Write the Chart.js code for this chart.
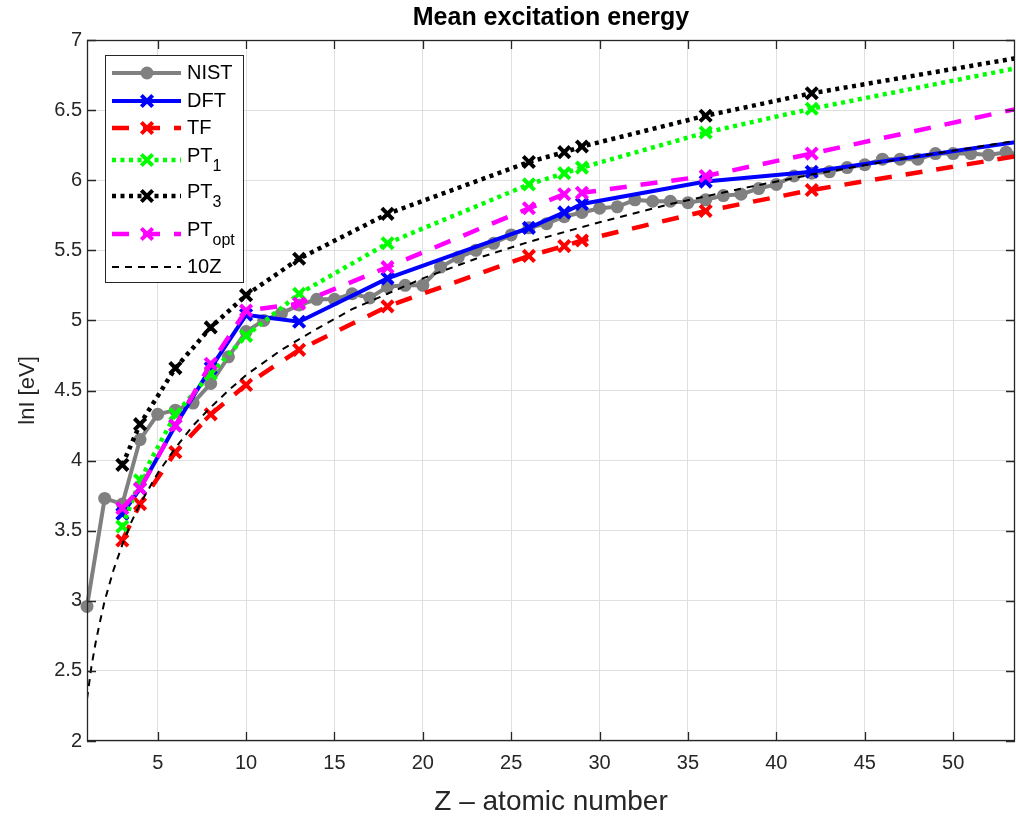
<!DOCTYPE html>
<html>
<head>
<meta charset="utf-8">
<title>Mean excitation energy</title>
<script src="https://cdn.jsdelivr.net/npm/chart.js@4.4.0/dist/chart.umd.min.js"></script>
<style>
  html, body { margin: 0; padding: 0; background: #fff; }
  #wrap { width: 1016px; height: 819px; }
</style>
</head>
<body>
<div id="wrap"><canvas id="chart" width="1016" height="819"></canvas></div>
<script>
// Z values for the NIST reference data
const zNist = [1, 2, 3, 4, 5, 6, 7, 8, 9, 10, 11, 12, 13, 14, 15, 16, 17, 18, 19, 20,
    21, 22, 23, 24, 25, 26, 27, 28, 29, 30, 31, 32, 33, 34, 35, 36, 37, 38, 39, 40,
    41, 42, 43, 44, 45, 46, 47, 48, 49, 50, 51, 52, 53, 54];
const nist = [2.96, 3.73, 3.69, 4.15, 4.33, 4.36, 4.41, 4.55, 4.74, 4.92, 5.00, 5.05, 5.11, 5.15, 5.15, 5.19, 5.16, 5.24, 5.25, 5.25,
    5.38, 5.45, 5.50, 5.55, 5.61, 5.66, 5.69, 5.74, 5.77, 5.80, 5.81, 5.86, 5.85, 5.85, 5.84, 5.86, 5.89, 5.90, 5.94, 5.97,
    6.03, 6.05, 6.06, 6.09, 6.11, 6.15, 6.15, 6.15, 6.19, 6.19, 6.19, 6.18, 6.20, 6.18];

// Z values of the computed atoms
const zCalc = [3, 4, 6, 8, 10, 13, 18, 26, 28, 29, 36, 42, 54];
const dft   = [3.62, 3.80, 4.25, 4.66, 5.04, 4.99, 5.30, 5.66, 5.77, 5.83, 5.99, 6.06, 6.28];
const tf    = [3.43, 3.69, 4.06, 4.33, 4.54, 4.79, 5.10, 5.46, 5.53, 5.57, 5.78, 5.93, 6.18];
const pt1   = [3.53, 3.86, 4.33, 4.62, 4.89, 5.19, 5.55, 5.97, 6.05, 6.09, 6.34, 6.51, 6.81];
const pt3   = [3.97, 4.26, 4.66, 4.95, 5.18, 5.44, 5.76, 6.13, 6.20, 6.24, 6.46, 6.62, 6.88];
const ptOpt = [3.66, 3.80, 4.25, 4.69, 5.07, 5.12, 5.38, 5.80, 5.90, 5.91, 6.03, 6.19, 6.52];

// 10Z reference curve
const z10Z = [1, 1.25, 1.5, 1.75, 2, 2.5, 3, 3.5, 4, 5, 6, 7, 8, 9, 10, 12, 14, 16, 18, 20,
    23, 26, 30, 34, 38, 42, 46, 50, 54];
const tenZ = [2.30, 2.53, 2.71, 2.86, 3.00, 3.22, 3.40, 3.56, 3.69, 3.91, 4.09, 4.25, 4.38, 4.50, 4.61, 4.79, 4.94, 5.08, 5.19, 5.30,
    5.44, 5.56, 5.70, 5.83, 5.94, 6.04, 6.13, 6.21, 6.29];

const xTicks = [5, 10, 15, 20, 25, 30, 35, 40, 45, 50];
const yTicks = [2, 2.5, 3, 3.5, 4, 4.5, 5, 5.5, 6, 6.5, 7];

function toXY(xs, ys) {
    return xs.map((x, i) => ({ x: x, y: ys[i] }));
}

const axisColor = '#262626';
const fontFamily = '"Liberation Sans", Arial, Helvetica, sans-serif';

// legend rows: label, subscript, row centre y
const legendRows = [
    { text: 'NIST', sub: '', y: 73 },
    { text: 'DFT', sub: '', y: 101 },
    { text: 'TF', sub: '', y: 128 },
    { text: 'PT', sub: '1', y: 160 },
    { text: 'PT', sub: '3', y: 196 },
    { text: 'PT', sub: 'opt', y: 234 },
    { text: '10Z', sub: '', y: 267 }
];

function drawMarker(ctx, ds, x, y) {
    ctx.save();
    ctx.setLineDash([]);
    if (ds.pointStyle === 'circle') {
        ctx.fillStyle = ds.borderColor;
        ctx.beginPath();
        ctx.arc(x, y, ds.pointRadius, 0, Math.PI * 2);
        ctx.fill();
    } else if (ds.pointStyle === 'crossRot') {
        const r = ds.pointRadius * Math.SQRT1_2;
        ctx.strokeStyle = ds.borderColor;
        ctx.lineWidth = ds.pointBorderWidth;
        ctx.beginPath();
        ctx.moveTo(x - r, y - r); ctx.lineTo(x + r, y + r);
        ctx.moveTo(x - r, y + r); ctx.lineTo(x + r, y - r);
        ctx.stroke();
    }
    ctx.restore();
}

const matlabFrame = {
    id: 'matlabFrame',
    afterDraw(chart) {
        const ctx = chart.ctx;
        const a = chart.chartArea;
        const xs = chart.scales.x, ys = chart.scales.y;
        ctx.save();
        ctx.strokeStyle = axisColor;
        ctx.lineWidth = 1.3;
        // box
        ctx.strokeRect(a.left + 0.5, a.top + 0.5, a.right - a.left - 1, a.bottom - a.top - 1);
        // inward ticks
        ctx.beginPath();
        xTicks.forEach(v => {
            const px = Math.round(xs.getPixelForValue(v)) + 0.5;
            ctx.moveTo(px, a.bottom); ctx.lineTo(px, a.bottom - 9);
            ctx.moveTo(px, a.top); ctx.lineTo(px, a.top + 9);
        });
        yTicks.forEach(v => {
            const py = Math.round(ys.getPixelForValue(v)) + 0.5;
            ctx.moveTo(a.left, py); ctx.lineTo(a.left + 9, py);
            ctx.moveTo(a.right, py); ctx.lineTo(a.right - 9, py);
        });
        ctx.stroke();

        // title
        ctx.fillStyle = '#000';
        ctx.font = 'bold 25px ' + fontFamily;
        ctx.textAlign = 'center';
        ctx.textBaseline = 'middle';
        ctx.fillText('Mean excitation energy', (a.left + a.right) / 2, 18);

        // legend
        const lx = 105, ly = 55, lw = 138, lh = 227;
        ctx.fillStyle = '#fff';
        ctx.fillRect(lx, ly, lw, lh);
        ctx.strokeStyle = axisColor;
        ctx.lineWidth = 1;
        ctx.strokeRect(lx + 0.5, ly + 0.5, lw, lh);
        legendRows.forEach((row, i) => {
            const ds = chart.data.datasets[i];
            ctx.save();
            ctx.strokeStyle = ds.borderColor;
            ctx.lineWidth = ds.borderWidth;
            ctx.setLineDash(ds.borderDash || []);
            ctx.beginPath();
            ctx.moveTo(112, row.y);
            ctx.lineTo(181, row.y);
            ctx.stroke();
            ctx.restore();
            if (ds.pointRadius > 0) drawMarker(ctx, ds, 147, row.y);
            ctx.fillStyle = '#000';
            ctx.textAlign = 'left';
            ctx.textBaseline = 'middle';
            ctx.font = '20px ' + fontFamily;
            const ty = row.sub ? row.y - 4 : row.y;
            ctx.fillText(row.text, 187, ty);
            if (row.sub) {
                const w = ctx.measureText(row.text).width;
                ctx.font = '16px ' + fontFamily;
                ctx.fillText(row.sub, 187 + w, ty + 11);
            }
        });
        ctx.restore();
    }
};

const ctx = document.getElementById('chart').getContext('2d');
const chart = new Chart(ctx, {
    type: 'scatter',
    data: {
        datasets: [
            {
                label: 'NIST', data: toXY(zNist, nist), showLine: true,
                borderColor: '#808080', backgroundColor: '#808080', borderWidth: 4,
                pointStyle: 'circle', pointRadius: 6.5, pointBorderWidth: 0,
                order: 7, clip: { left: 12, top: 0, right: 0, bottom: 0 }
            },
            {
                label: 'DFT', data: toXY(zCalc, dft), showLine: true,
                borderColor: '#0000ff', backgroundColor: '#0000ff', borderWidth: 4,
                pointStyle: 'crossRot', pointRadius: 8, pointBorderWidth: 4,
                order: 6, clip: 0
            },
            {
                label: 'TF', data: toXY(zCalc, tf), showLine: true,
                borderColor: '#ff0000', backgroundColor: '#ff0000', borderWidth: 4.5, borderDash: [17, 14],
                pointStyle: 'crossRot', pointRadius: 8, pointBorderWidth: 4,
                order: 5, clip: 0
            },
            {
                label: 'PT1', data: toXY(zCalc, pt1), showLine: true,
                borderColor: '#00ff00', backgroundColor: '#00ff00', borderWidth: 4.5, borderDash: [4, 4.5],
                pointStyle: 'crossRot', pointRadius: 8, pointBorderWidth: 4,
                order: 4, clip: 0
            },
            {
                label: 'PT3', data: toXY(zCalc, pt3), showLine: true,
                borderColor: '#000000', backgroundColor: '#000000', borderWidth: 4.5, borderDash: [4, 4.5],
                pointStyle: 'crossRot', pointRadius: 8, pointBorderWidth: 4,
                order: 3, clip: 0
            },
            {
                label: 'PTopt', data: toXY(zCalc, ptOpt), showLine: true,
                borderColor: '#ff00ff', backgroundColor: '#ff00ff', borderWidth: 4.5, borderDash: [17, 14],
                pointStyle: 'crossRot', pointRadius: 8, pointBorderWidth: 4,
                order: 2, clip: 0
            },
            {
                label: '10Z', data: toXY(z10Z, tenZ), showLine: true,
                borderColor: '#000000', backgroundColor: '#000000', borderWidth: 2, borderDash: [7, 6],
                pointRadius: 0, order: 1, clip: 0
            }
        ]
    },
    options: {
        responsive: false,
        animation: false,
        events: [],
        layout: { autoPadding: false, padding: { top: 40, right: 1, left: 0, bottom: 0 } },
        elements: { line: { tension: 0 } },
        plugins: {
            legend: { display: false },
            tooltip: { enabled: false },
            title: { display: false }
        },
        scales: {
            x: {
                type: 'linear', min: 1, max: 53.5,
                afterFit(scale) {
                    scale.height = 78;
                    scale.paddingLeft = 0;
                    scale.paddingRight = 0;
                },
                border: { display: false },
                grid: { color: '#dfdfdf', lineWidth: 1, drawTicks: false },
                ticks: {
                    stepSize: 5, includeBounds: false, padding: 10,
                    color: axisColor, font: { size: 20, family: fontFamily },
                    maxRotation: 0
                },
                title: {
                    display: true, text: 'Z \u2013 atomic number', color: axisColor,
                    font: { size: 28, family: fontFamily }, padding: { top: 0, bottom: 0 }
                }
            },
            y: {
                type: 'linear', min: 2, max: 7,
                afterFit(scale) { scale.width = 87; },
                border: { display: false },
                grid: { color: '#dfdfdf', lineWidth: 1, drawTicks: false },
                ticks: {
                    stepSize: 0.5, padding: 5,
                    color: axisColor, font: { size: 20, family: fontFamily },
                    callback: v => String(v)
                },
                title: {
                    display: true, text: 'lnI [eV]', color: axisColor,
                    font: { size: 22, family: fontFamily }, padding: { top: 15, bottom: 0 }
                }
            }
        }
    },
    plugins: [matlabFrame]
});
</script>
</body>
</html>
